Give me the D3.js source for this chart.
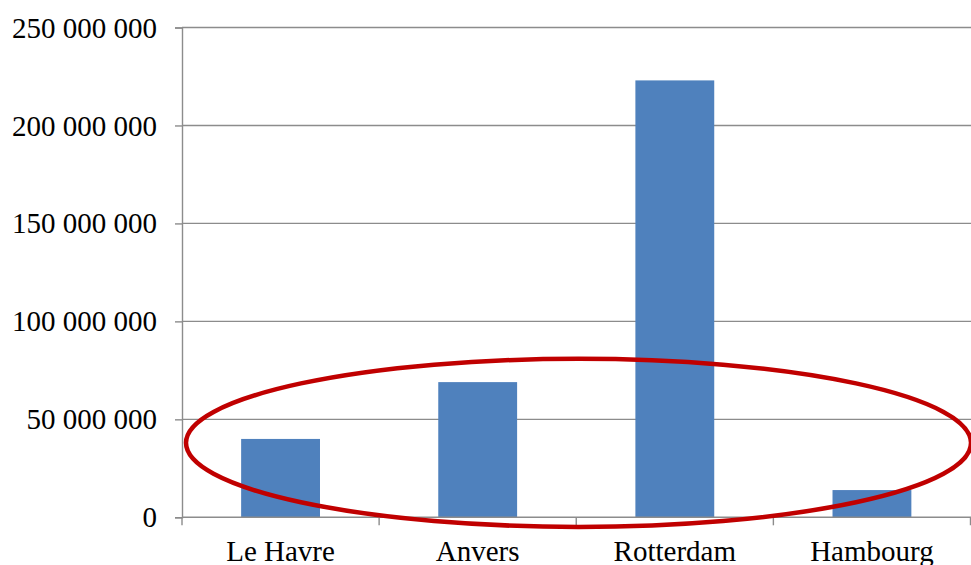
<!DOCTYPE html>
<html><head><meta charset="utf-8">
<script src="https://cdn.jsdelivr.net/npm/d3@7"></script>
<style>
html,body{margin:0;padding:0;background:#fff;overflow:hidden}
text{font-family:"Liberation Serif","Times New Roman",serif;fill:#000}
</style></head>
<body>
<svg id="chart" width="971" height="565"></svg>
<script>
const categories = ["Le Havre", "Anvers", "Rotterdam", "Hambourg"];
const values = [40000000, 69000000, 223000000, 13900000];
const yTicks = [0, 50000000, 100000000, 150000000, 200000000, 250000000];

const W = 971, H = 565;
const m = {left: 182, right: 0.5, top: 27.5, bottom: 47.7};
const svg = d3.select("#chart");
const x = d3.scaleBand().domain(categories).range([m.left, W - m.right]).paddingInner(0.6).paddingOuter(0.3);
const y = d3.scaleLinear().domain([0, 250000000]).range([H - m.bottom, m.top]);
const fmt = v => d3.format(",")(v).replace(/,/g, " ");
const FS = 29;

// gridlines
svg.append("g").selectAll("line").data(yTicks.slice(1)).join("line")
  .attr("x1", m.left).attr("x2", W).attr("y1", d => y(d)).attr("y2", d => y(d))
  .attr("stroke", "#8c8c8c").attr("stroke-width", 1.4);

// y axis
const yAxis = svg.append("g").attr("transform", `translate(${m.left},0)`)
  .call(d3.axisLeft(y).tickValues(yTicks).tickSize(7).tickPadding(18).tickFormat(fmt));
yAxis.select(".domain").attr("stroke", "#8c8c8c").attr("stroke-width", 1.4);
yAxis.selectAll(".tick line").attr("stroke", "#8c8c8c").attr("stroke-width", 1.4);
yAxis.selectAll("text").attr("font-size", FS).attr("font-family", "Liberation Serif").attr("fill", "#000").attr("dy", "0.33em");

// bars
svg.append("g").selectAll("rect").data(categories).join("rect")
  .attr("x", d => x(d)).attr("width", x.bandwidth())
  .attr("y", (d, i) => y(values[i])).attr("height", (d, i) => y(0) - y(values[i]))
  .attr("fill", "#4f81bd");

// x axis
const y0 = y(0);
svg.append("line").attr("x1", m.left).attr("x2", W).attr("y1", y0).attr("y2", y0)
  .attr("stroke", "#8c8c8c").attr("stroke-width", 1.4);
const bounds = d3.range(categories.length + 1).map(i => m.left + i * (W - m.right - m.left) / categories.length);
svg.append("g").selectAll("line").data(bounds).join("line")
  .attr("x1", d => d).attr("x2", d => d).attr("y1", y0).attr("y2", y0 + 8)
  .attr("stroke", "#8c8c8c").attr("stroke-width", 1.4);
svg.append("g").selectAll("text").data(categories).join("text")
  .attr("x", d => x(d) + x.bandwidth() / 2).attr("y", y0 + 44)
  .attr("text-anchor", "middle").attr("font-size", FS).text(d => d);

// annotation ellipse
svg.append("ellipse")
  .attr("cx", 578.5).attr("cy", y(38000000))
  .attr("rx", 392.5).attr("ry", y(0) - y(42900000))
  .attr("fill", "none").attr("stroke", "#c00000").attr("stroke-width", 4.5);
</script>
</body></html>
